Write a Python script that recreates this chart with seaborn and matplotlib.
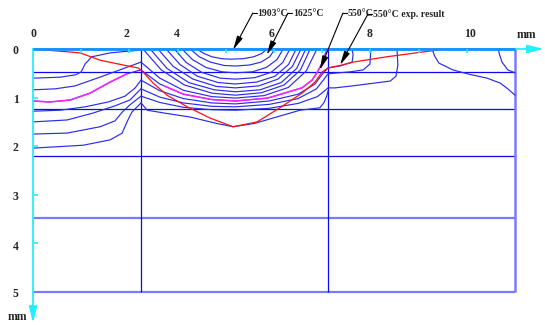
import numpy as np
import pandas as pd
import matplotlib
matplotlib.use("Agg")
import matplotlib.pyplot as plt
import seaborn as sns

# ---- axis labels (mm, placed where the original figure has them) ----
x_tick_labels = ["0", "2", "4", "6", "8", "10"]
x_tick_label_pos = [0.02, 1.94, 2.98, 4.95, 6.99, 9.07]
y_tick_labels = ["0", "1", "2", "3", "4", "5"]
y_tick_label_pos = [0.05, 1.05, 2.04, 3.05, 4.07, 5.04]
x_ticks = [1, 2, 3, 4, 5, 6, 7, 8, 9]
y_ticks = [1, 2, 3, 4]

# ---- mesh lines ----
hgrid_dark = [0.47, 1.23, 2.20]
hgrid_light = [3.48, 5.0]
vgrid_dark = [2.24, 6.12]
vgrid_light = [10.0]

# ---- isotherms inside the weld pool (x mm, depth mm) ----
pool_x = [
    [3.40, 3.54, 3.71, 3.92, 4.09, 4.36, 4.58, 4.75, 4.85],
    [3.26, 3.45, 3.68, 3.97, 4.20, 4.49, 4.73, 4.91, 5.02],
    [3.09, 3.31, 3.59, 3.92, 4.20, 4.55, 4.84, 5.06, 5.19],
    [2.93, 3.18, 3.50, 3.88, 4.20, 4.60, 4.94, 5.18, 5.33],
    [2.76, 3.05, 3.41, 3.84, 4.20, 4.64, 5.02, 5.30, 5.46],
    [2.59, 2.91, 3.32, 3.80, 4.20, 4.68, 5.08, 5.38, 5.56],
    [2.43, 2.78, 3.23, 3.76, 4.20, 4.71, 5.15, 5.47, 5.66],
    [2.28, 2.66, 3.14, 3.72, 4.20, 4.74, 5.21, 5.55, 5.75],
    [2.24, 2.63, 3.12, 3.71, 4.20, 4.79, 5.30, 5.67, 5.89],
    [2.24, 2.63, 3.12, 3.71, 4.20, 4.87, 5.58, 5.79, 5.89, 6.00, 6.08, 6.10],
    [2.24, 2.63, 3.12, 3.71, 4.20, 4.90, 5.50, 5.85, 6.00, 6.12, 6.37, 6.62, 6.64, 6.62],
    [2.24, 2.63, 3.12, 3.71, 4.20, 4.90, 5.50, 5.88, 6.04, 6.12, 6.58, 6.85, 6.99, 7.01],
    [2.24, 2.63, 3.12, 3.71, 4.20, 4.90, 5.50, 5.90, 6.05, 6.12, 6.27, 6.78, 7.41, 7.53, 7.57, 7.55],
    [2.24, 2.37, 2.80, 3.26, 3.80, 4.15, 4.60, 5.19, 5.54, 5.95, 6.04, 6.10, 6.12],
]
pool_y = [
    [0, 0.09, 0.16, 0.20, 0.21, 0.20, 0.16, 0.09, 0],
    [0, 0.16, 0.27, 0.34, 0.35, 0.33, 0.27, 0.16, 0],
    [0, 0.22, 0.38, 0.47, 0.49, 0.47, 0.38, 0.22, 0],
    [0, 0.28, 0.48, 0.60, 0.62, 0.59, 0.48, 0.28, 0],
    [0, 0.32, 0.56, 0.69, 0.72, 0.68, 0.56, 0.32, 0],
    [0, 0.36, 0.62, 0.77, 0.80, 0.76, 0.62, 0.36, 0],
    [0, 0.40, 0.69, 0.84, 0.88, 0.84, 0.69, 0.40, 0],
    [0, 0.43, 0.74, 0.91, 0.95, 0.90, 0.74, 0.43, 0],
    [0.27, 0.60, 0.85, 0.98, 1.01, 0.96, 0.79, 0.45, 0],
    [0.43, 0.72, 0.93, 1.04, 1.07, 1.01, 0.80, 0.64, 0.49, 0.29, 0.06, 0],
    [0.64, 0.86, 1.02, 1.11, 1.13, 1.07, 0.93, 0.72, 0.52, 0.39, 0.35, 0.27, 0.12, 0],
    [0.82, 0.99, 1.11, 1.18, 1.19, 1.14, 1.02, 0.82, 0.62, 0.51, 0.47, 0.43, 0.31, 0],
    [0.97, 1.10, 1.20, 1.25, 1.26, 1.22, 1.12, 0.98, 0.86, 0.80, 0.80, 0.74, 0.66, 0.56, 0.33, 0],
    [1.11, 1.26, 1.33, 1.40, 1.53, 1.60, 1.53, 1.36, 1.26, 1.21, 1.10, 0.95, 0.86],
]

# ---- isotherms left of the pool ----
left_x = [
    [0, 0.56, 0.89, 1.00, 1.08, 1.22, 1.60, 2.24],
    [0, 0.46, 0.87, 1.33, 1.80, 2.24],
    [0, 0.35, 0.77, 1.18, 1.60, 1.95, 2.24],
    [0, 0.56, 1.08, 1.56, 1.91, 2.12, 2.24],
    [0, 0.71, 1.24, 1.70, 2.01, 2.24],
    [0, 0.71, 1.39, 1.70, 1.85, 2.01, 2.24],
    [0, 1.04, 1.60, 1.85, 1.95, 2.05, 2.24],
]
left_y = [
    [0.60, 0.58, 0.53, 0.47, 0.31, 0.16, 0.08, 0.02],
    [0.84, 0.82, 0.76, 0.60, 0.43, 0.27],
    [1.07, 1.09, 1.05, 0.91, 0.68, 0.51, 0.43],
    [1.28, 1.26, 1.19, 1.09, 0.97, 0.80, 0.64],
    [1.50, 1.46, 1.32, 1.17, 1.05, 0.82],
    [1.75, 1.73, 1.60, 1.48, 1.30, 1.15, 0.97],
    [2.04, 1.98, 1.87, 1.73, 1.50, 1.30, 1.11],
]

# ---- isotherms far right ----
far_x = [
    [8.28, 8.33, 8.42, 8.71, 9.05, 9.42, 9.69, 9.85, 10.0],
    [9.65, 9.68, 9.73, 9.85, 10.0],
]
far_y = [
    [0, 0.14, 0.29, 0.43, 0.52, 0.60, 0.70, 0.82, 0.95],
    [0, 0.12, 0.27, 0.43, 0.49],
]

# ---- 550 C isotherm (magenta parts) ----
mag_left_x = [0, 0.35, 0.77, 1.18, 1.60, 1.95]
mag_left_y = [1.07, 1.09, 1.05, 0.91, 0.68, 0.51]
mag_pool_x = [2.74, 3.12, 3.71, 4.20, 4.87, 5.58, 5.79, 5.89, 6.00, 6.08, 6.10]
mag_pool_y = [0.77, 0.93, 1.04, 1.07, 1.01, 0.80, 0.64, 0.49, 0.29, 0.06, 0]

# ---- experimental fusion line ----
exp_x = [0, 0.98, 1.39, 1.87, 2.18, 2.28, 2.49, 2.78, 3.20, 3.67, 4.15, 4.65,
         5.12, 5.58, 5.85, 6.00, 6.12, 6.41, 6.64, 7.34, 8.40]
exp_y = [0, 0.08, 0.23, 0.33, 0.39, 0.47, 0.70, 0.95, 1.19, 1.42, 1.60, 1.50,
         1.21, 0.91, 0.68, 0.47, 0.39, 0.33, 0.27, 0.16, 0.02]

# ---- callouts ----
ann_labels = ["1903°C", "1625°C", "550°C", "550°C exp. result"]
ann_tip_x = [4.15, 4.85, 5.95, 6.37]
ann_tip_y = [0.02, 0.12, 0.43, 0.33]
ann_tail_x = [4.56, 5.29, 6.43, 6.95]
ann_tail_y = [-0.74, -0.74, -0.74, -0.72]
ann_text_x = [4.66, 5.39, 6.53, 7.05]

sns.set_theme(style="white")
plt.rcParams["font.family"] = ["Liberation Serif", "DejaVu Serif"]
plt.rcParams["font.weight"] = "bold"

fig = plt.figure(figsize=(5.45, 3.25), dpi=100)
ax = fig.add_axes([0, 0, 1, 1])

# mesh
ax.hlines(hgrid_dark, 0, 10, color="#0a0af0", lw=0.9, zorder=1)
ax.hlines(hgrid_light, 0, 10, color="#7a7aff", lw=1.6, zorder=1)
ax.vlines(vgrid_dark, 0, 5, color="#0a0af0", lw=0.9, zorder=1)
ax.vlines(vgrid_light, 0, 5, color="#7a7aff", lw=1.8, zorder=1)

# blue isotherms
frames = []
k = 0
for xs, ys in zip(pool_x + left_x + far_x, pool_y + left_y + far_y):
    frames.append(pd.DataFrame({"x": xs, "y": ys, "line": k}))
    k += 1
iso = pd.concat(frames, ignore_index=True)
sns.lineplot(data=iso, x="x", y="y", units="line", estimator=None, sort=False,
             color="#2b2bee", lw=0.85, ax=ax, legend=False, zorder=2)

# magenta 550 C
sns.lineplot(x=mag_left_x, y=mag_left_y, sort=False, estimator=None,
             color="#ff22ff", lw=1.1, ax=ax, zorder=3)
sns.lineplot(x=mag_pool_x, y=mag_pool_y, sort=False, estimator=None,
             color="#ff22ff", lw=1.1, ax=ax, zorder=3)

# experiment
sns.lineplot(x=exp_x, y=exp_y, sort=False, estimator=None,
             color="#ff1010", lw=0.9, ax=ax, zorder=4)

# axes drawn by hand like the original sketch
ax.annotate("", xy=(10.6, 0), xytext=(0, 0),
            arrowprops=dict(arrowstyle="-|>,head_length=0.8,head_width=0.2",
                            color="#22eeff", lw=1.3, shrinkA=0, shrinkB=0), zorder=5)
ax.plot([0, 10], [0, 0], color="#1a8cff", lw=2.0, zorder=6, solid_capstyle="butt")
ax.annotate("", xy=(0, 5.64), xytext=(0, 0),
            arrowprops=dict(arrowstyle="-|>,head_length=0.8,head_width=0.2",
                            color="#22eeff", lw=1.3, shrinkA=0, shrinkB=0), zorder=5)
ax.vlines(x_ticks, 0, 0.09, color="#22eeff", lw=1.2, zorder=6)
ax.hlines(y_ticks, 0, 0.11, color="#22eeff", lw=1.2, zorder=6)

for lab, xp in zip(x_tick_labels, x_tick_label_pos):
    ax.text(xp, -0.30, lab, ha="center", va="center", fontsize=8.5, fontweight="bold")
ax.text(10.23, -0.29, "mm", ha="center", va="center", fontsize=8.5, fontweight="bold")
for lab, yp in zip(y_tick_labels, y_tick_label_pos):
    ax.text(-0.36, yp, lab, ha="center", va="center", fontsize=8.5, fontweight="bold")
ax.text(-0.32, 5.51, "mm", ha="center", va="center", fontsize=8.5, fontweight="bold")

# callouts
for lab, tx, ty, sx, sy, lx in zip(ann_labels, ann_tip_x, ann_tip_y,
                                   ann_tail_x, ann_tail_y, ann_text_x):
    ax.annotate("", xy=(tx, ty), xytext=(sx, sy),
                arrowprops=dict(arrowstyle="-|>,head_length=0.7,head_width=0.15",
                                color="black", lw=0.8, shrinkA=0, shrinkB=0), zorder=7)
    ax.plot([sx, lx - 0.02], [sy, sy], color="black", lw=0.8, zorder=7)
    ax.text(lx, sy, lab, ha="left", va="center", fontsize=7, fontweight="bold")

ax.set_xlim(-0.685, 10.622)
ax.set_ylim(5.679, -1.008)
ax.axis("off")

fig.savefig("out.png", dpi=100, facecolor="white")
